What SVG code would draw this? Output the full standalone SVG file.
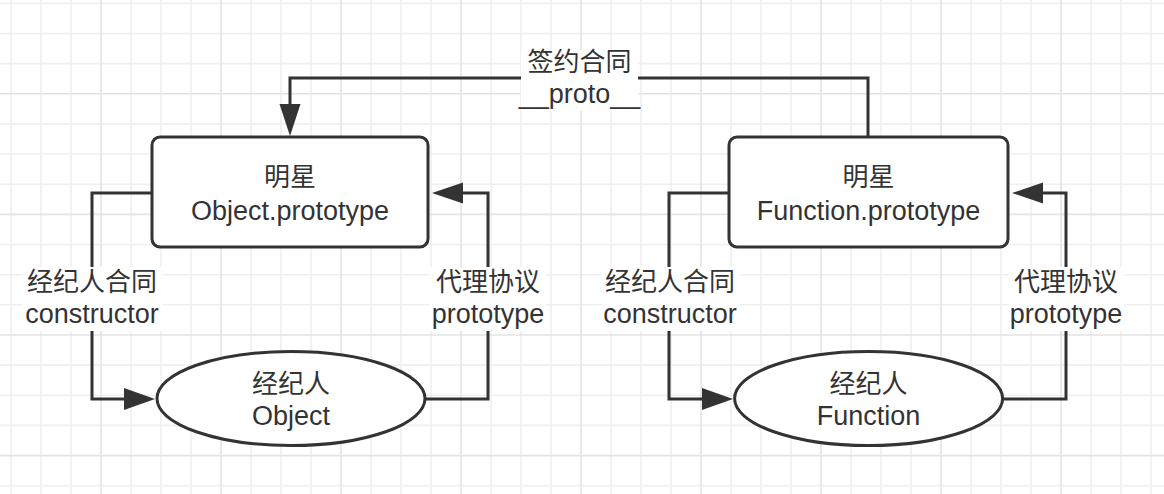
<svg xmlns="http://www.w3.org/2000/svg" width="1164" height="494" viewBox="0 0 1164 494">
<style>
.grid-minor{stroke:#efefef;stroke-width:1.6;fill:none}
.grid-major{stroke:#e4e4e4;stroke-width:1.6;fill:none}
.shape{fill:#ffffff;stroke:#333333;stroke-width:3}
.edge{fill:none;stroke:#333333;stroke-width:3}
.head{fill:#333333;stroke:none}
.lbl{fill:#ffffff;stroke:none}
text{font-family:"Liberation Sans","Noto Sans CJK SC",sans-serif;fill:#333333;text-anchor:middle}
.cjk{font-size:26px}
.lat{font-size:27px}
</style>
<rect x="0" y="0" width="1164" height="494" fill="#ffffff"/>
<g id="grid">
<path class="grid-minor" d="M11 0V494M41 0V494M71 0V494M131 0V494M161 0V494M191 0V494M251 0V494M281 0V494M311 0V494M371 0V494M401 0V494M431 0V494M491 0V494M521 0V494M551 0V494M611 0V494M641 0V494M671 0V494M731 0V494M761 0V494M791 0V494M851 0V494M881 0V494M911 0V494M971 0V494M1001 0V494M1031 0V494M1091 0V494M1121 0V494M1151 0V494M0 3.3H1164M0 33.5H1164M0 63.6H1164M0 123.9H1164M0 154H1164M0 184.2H1164M0 244.5H1164M0 274.7H1164M0 304.8H1164M0 365.1H1164M0 395.3H1164M0 425.4H1164M0 485.7H1164"/>
<path class="grid-major" d="M101 0V494M221 0V494M341 0V494M461 0V494M581 0V494M701 0V494M821 0V494M941 0V494M1061 0V494M0 93.8H1164M0 214.4H1164M0 335H1164M0 455.6H1164"/>
</g>
<g id="connectors">
<path class="edge" d="M868 137V78H290V105"/>
<polygon class="head" points="279.5,104 300.5,104 290,136"/>
<path class="edge" d="M152 193H92V399H125"/>
<polygon class="head" points="124,388 124,410 155,399"/>
<path class="edge" d="M425 399H488V193H462"/>
<polygon class="head" points="463,182.5 463,203.5 432,193"/>
<path class="edge" d="M729 193H669V399H703"/>
<polygon class="head" points="702,388 702,410 733,399"/>
<path class="edge" d="M1003 399H1066V193H1042"/>
<polygon class="head" points="1043,182.5 1043,203.5 1012,193"/>
<rect class="lbl" x="521" y="50" width="117" height="61"/>
<text x="579.5" y="71" class="cjk">签约合同</text>
<text x="579.5" y="103" class="lat">__proto__</text>
<rect class="lbl" x="23" y="267" width="140" height="64"/>
<text x="92" y="291" class="cjk">经纪人合同</text>
<text x="92" y="323" class="lat">constructor</text>
<rect class="lbl" x="429" y="267" width="117" height="64"/>
<text x="488" y="291" class="cjk">代理协议</text>
<text x="488" y="323" class="lat">prototype</text>
<rect class="lbl" x="602" y="267" width="138" height="64"/>
<text x="670" y="291" class="cjk">经纪人合同</text>
<text x="670" y="323" class="lat">constructor</text>
<rect class="lbl" x="1008" y="267" width="116" height="64"/>
<text x="1066" y="291" class="cjk">代理协议</text>
<text x="1066" y="323" class="lat">prototype</text>
</g>
<g id="node-object-prototype">
<rect class="shape" x="152" y="137" width="276" height="110" rx="8" ry="8"/>
<text x="290" y="186" class="cjk">明星</text>
<text x="290" y="220" class="lat">Object.prototype</text>
</g>
<g id="node-function-prototype">
<rect class="shape" x="729" y="137" width="279" height="110" rx="8" ry="8"/>
<text x="868.5" y="186" class="cjk">明星</text>
<text x="868.5" y="220" class="lat">Function.prototype</text>
</g>
<g id="node-object">
<ellipse class="shape" cx="291" cy="398.5" rx="134" ry="47"/>
<text x="291" y="393" class="cjk">经纪人</text>
<text x="291" y="425" class="lat">Object</text>
</g>
<g id="node-function">
<ellipse class="shape" cx="868.6" cy="398.5" rx="134" ry="47"/>
<text x="868.6" y="393" class="cjk">经纪人</text>
<text x="868.6" y="425" class="lat">Function</text>
</g>
</svg>
